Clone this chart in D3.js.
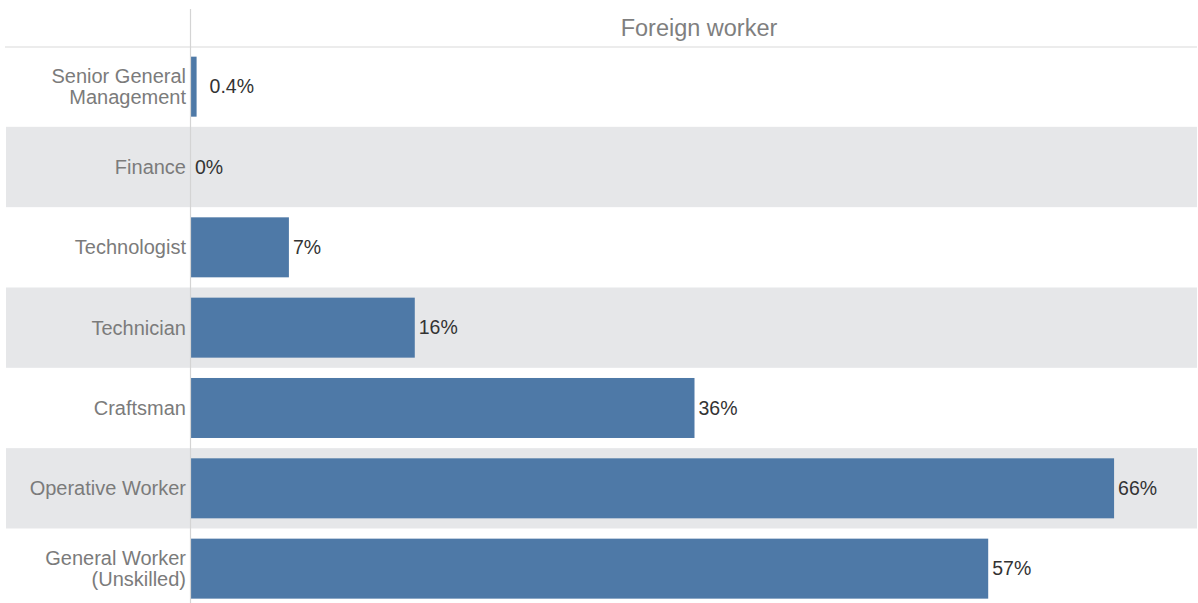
<!DOCTYPE html>
<html>
<head>
<meta charset="utf-8">
<script src="https://cdn.jsdelivr.net/npm/d3@7"></script>
<style>
  html, body { margin: 0; padding: 0; background: #ffffff; }
  svg { display: block; }
  text { font-family: "Liberation Sans", Arial, Helvetica, sans-serif; }
</style>
</head>
<body>
<svg id="chart" width="1198" height="603"></svg>
<script>
// Occupational groups (top to bottom) and share of foreign workers in each, in percent
const categories = [
  "Senior General\nManagement",
  "Finance",
  "Technologist",
  "Technician",
  "Craftsman",
  "Operative Worker",
  "General Worker\n(Unskilled)"
];
const foreignWorkerShare = [0.4, 0, 7, 16, 36, 66, 57];
const columnTitle = "Foreign worker";

const data = categories.map((c, i) => ({ category: c, value: foreignWorkerShare[i] }));

const chartW = 1198, chartH = 603;
const svg = d3.select("#chart");

const plotLeft = 191, plotRight = 1198, plotTop = 46.5, rowH = 80.33;

const y = d3.scaleBand()
  .domain(categories)
  .range([plotTop, plotTop + rowH * categories.length])
  .paddingInner(0)
  .paddingOuter(0);

const x = d3.scaleLinear()
  .domain([0, 72])
  .range([plotLeft, plotRight]);

// Alternating row bands
svg.append("g")
  .selectAll("rect")
  .data(data.filter((d, i) => i % 2 === 1))
  .join("rect")
  .attr("x", 6)
  .attr("y", d => y(d.category))
  .attr("width", 1197 - 6)
  .attr("height", y.bandwidth())
  .attr("fill", "#e6e7e9");

// Header separator and column title
svg.append("line")
  .attr("x1", 5).attr("x2", 1197)
  .attr("y1", 47).attr("y2", 47)
  .attr("stroke", "#d9d9d9").attr("stroke-width", 1.2);

svg.append("text")
  .attr("x", 699)
  .attr("y", 36)
  .attr("text-anchor", "middle")
  .attr("font-size", 23.5)
  .attr("fill", "#7f7f7f")
  .text(columnTitle);

// Bars
const barH = 60;
const barPad = (y.bandwidth() - barH) / 2;
svg.append("g")
  .selectAll("rect")
  .data(data)
  .join("rect")
  .attr("x", x(0))
  .attr("y", d => y(d.category) + barPad)
  .attr("width", d => x(d.value) - x(0))
  .attr("height", barH)
  .attr("fill", "#4e79a7");

// Value labels; fractional values sit a little further from their bar
svg.append("g")
  .selectAll("text")
  .data(data)
  .join("text")
  .attr("x", d => x(d.value) + (d.value % 1 ? 13 : 4))
  .attr("y", d => y(d.category) + y.bandwidth() / 2)
  .attr("dy", "0.35em")
  .attr("font-size", 19.5)
  .attr("fill", "#333333")
  .text(d => `${d.value}%`);

// Category labels, right-aligned against the axis line
const labelSize = 20, lineH = 21.5;
svg.append("g")
  .selectAll("text")
  .data(data)
  .join("text")
  .attr("text-anchor", "end")
  .attr("font-size", labelSize)
  .attr("fill", "#7b7b7b")
  .each(function(d) {
    const lines = d.category.split("\n");
    const cy = y(d.category) + y.bandwidth() / 2
      - (lines.length - 1) * lineH / 2 + 0.35 * labelSize;
    d3.select(this).selectAll("tspan")
      .data(lines)
      .join("tspan")
      .attr("x", 186)
      .attr("y", (l, i) => cy + i * lineH)
      .text(l => l);
  });

// Vertical axis line
svg.append("line")
  .attr("x1", 190.5).attr("x2", 190.5)
  .attr("y1", 9).attr("y2", chartH)
  .attr("stroke", "#d4d4d4").attr("stroke-width", 1.2);
</script>
</body>
</html>
